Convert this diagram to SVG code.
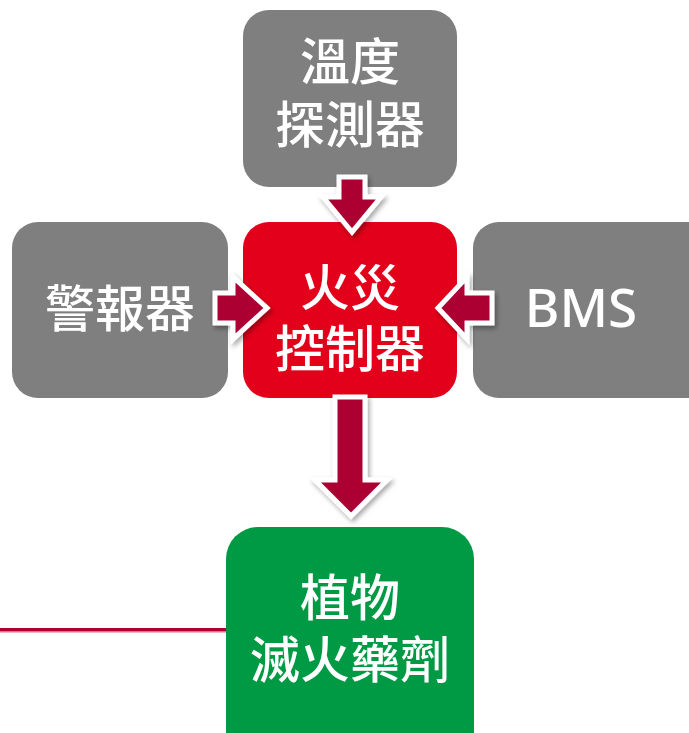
<svg xmlns="http://www.w3.org/2000/svg" width="689" height="733" viewBox="0 0 689 733">
<defs>
<filter id="sh" x="-30%" y="-30%" width="160%" height="160%">
<feDropShadow dx="2" dy="3" stdDeviation="2.5" flood-color="#000" flood-opacity="0.35"/>
</filter>
<style>
.gray{fill:#7f7f7f}
.red{fill:#e3001b}
.green{fill:#009a44}
.t{fill:#fff;font-family:"Noto Sans CJK TC","Noto Sans CJK SC",sans-serif;font-size:50px;font-weight:500;text-anchor:middle}
.arr{fill:#ad0033;stroke:#fff;stroke-width:5;stroke-linejoin:miter;filter:url(#sh)}
</style>
</defs>
<rect x="0" y="628" width="228" height="4" fill="#b0002f"/>
<rect x="0" y="631" width="228" height="1.5" fill="#e07088"/>
<g id="temp">
<rect class="gray" x="243" y="10" width="214" height="177" rx="26"/>
<text class="t"><tspan x="350" y="80">溫度</tspan><tspan x="350" y="143">探測器</tspan></text>
</g>
<g id="alarm">
<rect class="gray" x="12" y="222" width="216" height="176" rx="26"/>
<text class="t" x="120" y="327">警報器</text>
</g>
<g id="controller">
<rect class="red" x="243" y="222" width="214" height="176" rx="26"/>
<text class="t"><tspan x="350" y="306">火災</tspan><tspan x="350" y="367">控制器</tspan></text>
</g>
<g id="bms">
<rect class="gray" x="473" y="222" width="240" height="176" rx="26"/>
<text class="t" x="581" y="327" style="font-family:'Noto Sans','Open Sans',sans-serif;font-size:53px">BMS</text>
</g>
<g id="agent">
<rect class="green" x="226" y="527" width="248" height="240" rx="32"/>
<text class="t"><tspan x="350" y="616">植物</tspan><tspan x="350" y="678">滅火藥劑</tspan></text>
</g>
<g id="connectors">
<polygon class="arr" points="339,177 365,177 365,197 381,197 352,232 323,197 339,197"/>
<polygon class="arr" points="215,293 233,293 233,277 267,308 233,339 233,323 215,323"/>
<polygon class="arr" points="492,293 467,293 467,277 438,308 467,339 467,323 492,323"/>
<polygon class="arr" points="335,397 365,397 365,480 387,480 351,516 315,480 335,480"/>
</g>
</svg>
